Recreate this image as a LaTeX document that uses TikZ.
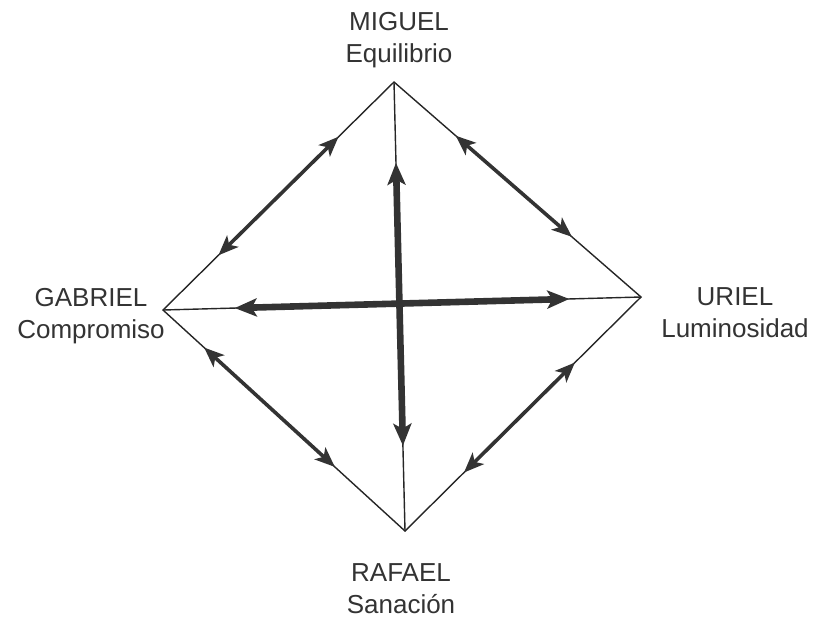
\documentclass[tikz,border=0pt]{standalone}
\usepackage{fontspec}
\setmainfont{Liberation Sans}
\usetikzlibrary{calc}
\usetikzlibrary{arrows.meta}

\begin{document}
\begin{tikzpicture}[x=0.5pt, y=-0.5pt,
    every node/.style={font=\fontsize{13}{16}\selectfont, align=center, text=black!80},
    rim/.style={line width=0.7pt, black!85},
    sidearrow/.style={{Stealth[length=10pt,width=8pt,inset=2.5pt]}-{Stealth[length=10pt,width=8pt,inset=2.5pt]}, line width=1.8pt, black!80},
    crossarrow/.style={{Stealth[length=11pt,width=9pt,inset=2.5pt]}-{Stealth[length=11pt,width=9pt,inset=2.5pt]}, line width=3.3pt, black!80}]
    \useasboundingbox (0,0) rectangle (818,617);
    % corners of the diamond
    \coordinate (top) at (394,82);
    \coordinate (right) at (641,297);
    \coordinate (bottom) at (405,531);
    \coordinate (left) at (163,310);
    \draw[rim] (top) -- (right) -- (bottom) -- (left) -- cycle;
    \draw[rim] (top) -- (bottom);
    \draw[rim] (left) -- (right);
    % arrows on the sides
    \draw[sidearrow] ($(left)!0.24!(top)$) -- ($(left)!0.76!(top)$);
    \draw[sidearrow] ($(top)!0.25!(right)$) -- ($(top)!0.72!(right)$);
    \draw[sidearrow] ($(left)!0.17!(bottom)$) -- ($(left)!0.71!(bottom)$);
    \draw[sidearrow] ($(bottom)!0.25!(right)$) -- ($(bottom)!0.72!(right)$);
    % the cross
    \draw[crossarrow] ($(left)!0.15!(right)$) -- ($(left)!0.85!(right)$);
    \draw[crossarrow] ($(top)!0.18!(bottom)$) -- ($(top)!0.81!(bottom)$);
    % names
    \node (miguel) at (399,40) {MIGUEL\\Equilibrio};
    \node (gabriel) at (91,316) {GABRIEL\\Compromiso};
    \node (uriel) at (735,313) {URIEL\\Luminosidad};
    \node (rafael) at (401,589) {RAFAEL\\Sanación};
\end{tikzpicture}
\end{document}
